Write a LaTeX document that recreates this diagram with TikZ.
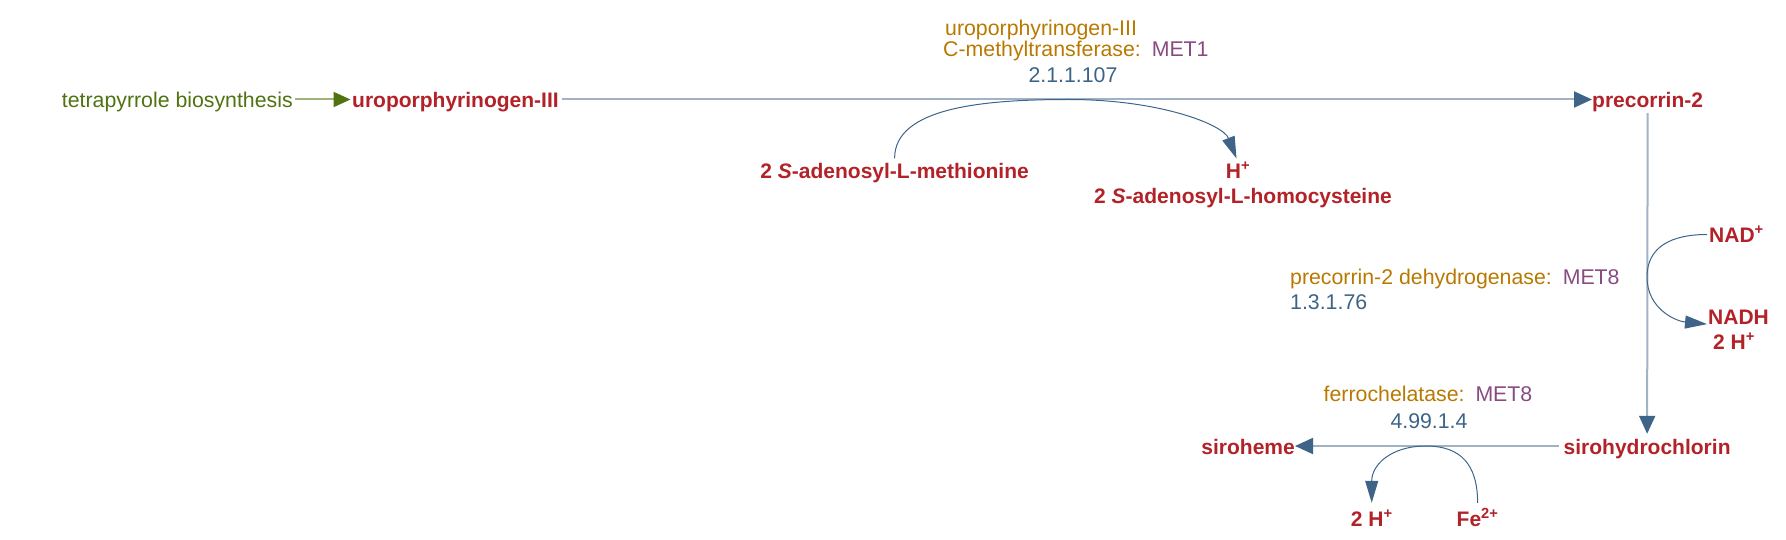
\documentclass[tikz,border=0pt]{standalone}
\usepackage{fontspec}
\setmainfont{Liberation Sans}
\usetikzlibrary{arrows.meta}
\definecolor{molred}{RGB}{178,34,40}
\definecolor{pwgreen}{RGB}{78,115,15}
\definecolor{pwgreenl}{RGB}{158,180,125}
\definecolor{enzorange}{RGB}{185,120,0}
\definecolor{genepurple}{RGB}{135,75,130}
\definecolor{ecblue}{RGB}{60,100,135}
\definecolor{linegrey}{RGB}{160,178,196}
\definecolor{arrowblue}{RGB}{62,100,135}
\begin{document}
\begin{tikzpicture}[x=1pt,y=-1pt,
 mol/.style={font=\fontsize{21}{24}\selectfont\bfseries, text=molred, inner sep=0pt, text height=16pt, text depth=0pt},
 lbl/.style={font=\fontsize{21.3}{24}\selectfont, inner sep=0pt, text height=16pt, text depth=0pt},
 mainline/.style={draw=linegrey, line width=2pt, -{Triangle[color=arrowblue,length=18pt,width=16pt]}},
 sideline/.style={draw=arrowblue, line width=1pt, -{Triangle[color=arrowblue,length=22pt,width=13pt]}},
]
\useasboundingbox (0,0) rectangle (1786,540);

% molecules and pathway link
\node[lbl, text=pwgreen, anchor=west] (tp) at (61.7,99.5) {tetrapyrrole biosynthesis};
\node[mol, anchor=west] (uro) at (352,99.5) {uroporphyrinogen-III};
\node[mol, anchor=west] (pc2) at (1592,99.5) {precorrin-2};
\node[mol] (meth) at (894.6,170.5) {2 \textit{S}-adenosyl-L-methionine};
\node[mol] (hp) at (1238,170.5) {H\textsuperscript{+}};
\node[mol] (hcys) at (1243,196) {2 \textit{S}-adenosyl-L-homocysteine};
\node[mol, anchor=west] (nadp) at (1709,234.5) {NAD\textsuperscript{+}};
\node[mol, anchor=west] (nadh) at (1708,316) {NADH};
\node[mol] (h2r) at (1734,341) {2 H\textsuperscript{+}};
\node[mol, anchor=west] (siroh) at (1563.5,446) {sirohydrochlorin};
\node[mol, anchor=east] (sirohm) at (1295,446) {siroheme};
\node[mol] (h2b) at (1371.7,518) {2 H\textsuperscript{+}};
\node[mol] (fe) at (1477.6,518) {Fe\textsuperscript{2+}};

% enzyme labels
\node[lbl, anchor=base west, text=enzorange] (e1a) at (945,35.5) {uroporphyrinogen-III};
\node[lbl, anchor=base west] (e1b) at (943,57) {\textcolor{enzorange}{C-methyltransferase:}\kern3pt{} \textcolor{genepurple}{MET1}};
\node[lbl, anchor=base, text=ecblue] (e1c) at (1073,83) {2.1.1.107};
\node[lbl, anchor=west] (e2a) at (1290,276.7) {\textcolor{enzorange}{precorrin-2 dehydrogenase:}\kern3pt{} \textcolor{genepurple}{MET8}};
\node[lbl, anchor=west, text=ecblue] (e2b) at (1290,301.7) {1.3.1.76};
\node[lbl] (e3a) at (1428,393.3) {\textcolor{enzorange}{ferrochelatase:}\kern3pt{} \textcolor{genepurple}{MET8}};
\node[lbl, text=ecblue] (e3b) at (1429,420) {4.99.1.4};

% points where side reactions touch the main reactions
\coordinate (m1) at (1069,99.5);
\coordinate (m2) at (1647,277);
\coordinate (m3) at (1426,446);

% connectors
\draw[draw=pwgreenl, line width=2pt, shorten <=2pt, shorten >=1.5pt,
      -{Triangle[color=pwgreen,length=17pt,width=15pt]}] (tp.east) -- (uro.west);
\draw[mainline, shorten <=3pt] (uro.east) -- (pc2.west);
\draw[mainline, shorten <=5.5pt, shorten >=4pt] (pc2.south) -- (siroh.north);
\draw[mainline, shorten <=4.5pt] (siroh.west) -- (sirohm.east);

\draw[sideline, shorten <=4pt, shorten >=4pt] (meth.north) .. controls +(0,-55) and +(-85,0) .. (m1)
      .. controls +(90,0) and +(-15,-38) .. (hp.north);
\draw[sideline, shorten <=2pt, shorten >=1pt] (nadp.west) .. controls +(-38,0) and +(0,-30) .. (m2)
      .. controls +(0,32) and +(-32,-3) .. (nadh.south west);
\draw[sideline, shorten <=7pt, shorten >=7pt] (fe.north) .. controls +(0,-45) and +(35,0) .. (m3)
      .. controls +(-35,0) and +(0,-45) .. (h2b.north);
\end{tikzpicture}
\end{document}
